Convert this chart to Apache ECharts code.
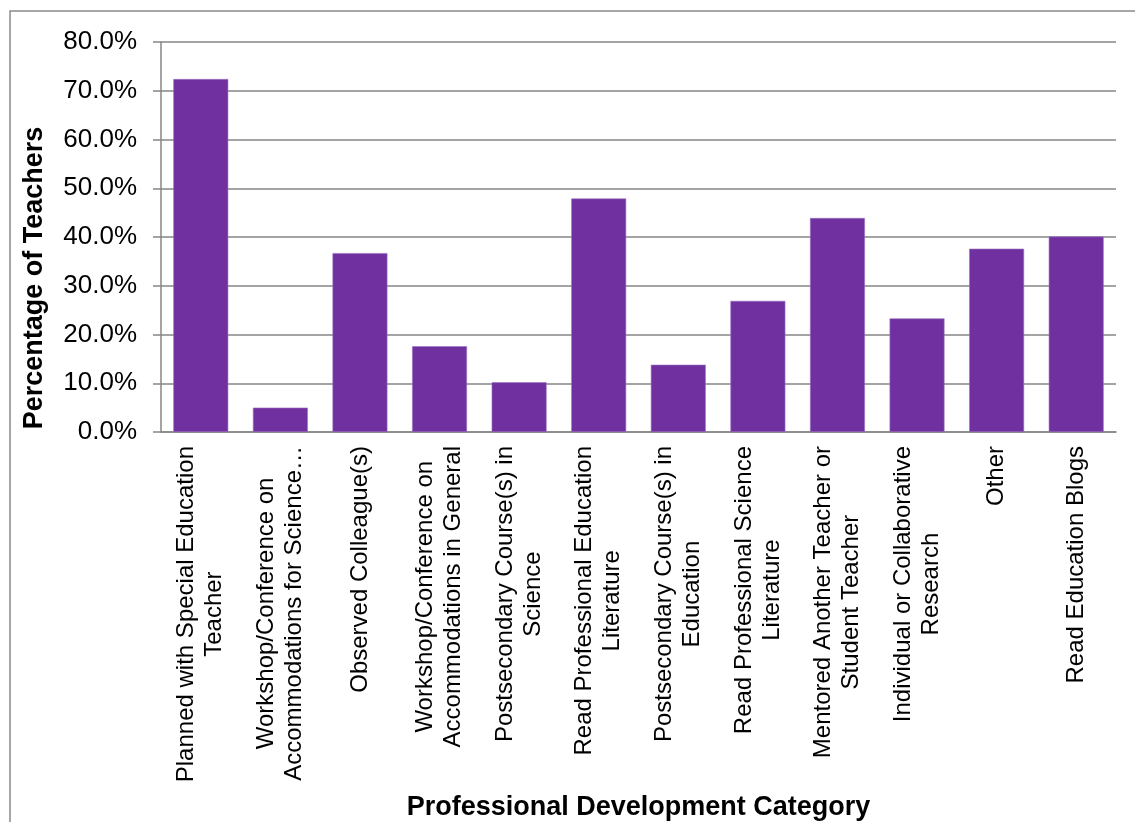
<!DOCTYPE html>
<html>
<head>
<meta charset="utf-8">
<title>Professional Development Category</title>
<script src="https://cdn.jsdelivr.net/npm/echarts@6/dist/echarts.min.js"></script>
<style>
  html, body { margin: 0; padding: 0; background: #fff; }
  #chart { width: 1135px; height: 822px; }
</style>
</head>
<body>
<div id="chart"></div>
<script>
// Professional development activities reported by teachers
const categories = [
  'Planned with Special Education\nTeacher',
  'Workshop/Conference on\nAccommodations for Science…',
  'Observed Colleague(s)',
  'Workshop/Conference on\nAccommodations in General',
  'Postsecondary Course(s) in\nScience',
  'Read Professional Education\nLiterature',
  'Postsecondary Course(s) in\nEducation',
  'Read Professional Science\nLiterature',
  'Mentored Another Teacher or\nStudent Teacher',
  'Individual or Collaborative\nResearch',
  'Other',
  'Read Education Blogs'
];

// Percentage of teachers per category
const teacherPct = [72.4, 5.0, 36.7, 17.6, 10.2, 47.9, 13.8, 26.9, 43.9, 23.3, 37.6, 40.1];

const yAxisTitle = 'Percentage of Teachers';
const xAxisTitle = 'Professional Development Category';

const FONT = '"Liberation Sans", Arial, sans-serif';
const GRID_GRAY = '#868686';

const chart = echarts.init(document.getElementById('chart'), null, { renderer: 'canvas' });

chart.setOption({
  animation: false,
  backgroundColor: '#ffffff',
  grid: { left: 161, right: 19, top: 42, bottom: 389, containLabel: false },
  xAxis: {
    type: 'category',
    data: categories,
    name: xAxisTitle,
    nameLocation: 'middle',
    nameGap: 362,
    nameTextStyle: { fontFamily: FONT, fontSize: 27, fontWeight: 'bold', color: '#000' },
    axisLine: { show: true, lineStyle: { color: GRID_GRAY, width: 1.5 } },
    axisTick: { show: false },
    axisLabel: {
      interval: 0,
      rotate: 90,
      margin: 14,
      color: '#000',
      fontFamily: FONT,
      fontSize: 24,
      formatter: v => v.split('\n').map(s => '{c|' + s + '}').join('\n'),
      rich: {
        c: { align: 'center', fontFamily: FONT, fontSize: 24, lineHeight: 28, color: '#000' }
      }
    }
  },
  yAxis: {
    type: 'value',
    min: 0,
    max: 80,
    interval: 10,
    axisLine: { show: true, lineStyle: { color: GRID_GRAY, width: 1.5 } },
    axisTick: { show: true, length: 8, lineStyle: { color: GRID_GRAY, width: 1.5 } },
    splitLine: { show: true, lineStyle: { color: GRID_GRAY, width: 1.5 } },
    axisLabel: {
      margin: 24,
      color: '#000',
      fontFamily: FONT,
      fontSize: 26,
      formatter: v => v.toFixed(1) + '%'
    }
  },
  series: [{
    type: 'bar',
    data: teacherPct,
    barCategoryGap: '31%',
    itemStyle: { color: '#7030A0', borderColor: '#9a74bf', borderWidth: 0.6 }
  }],
  graphic: [
    {
      type: 'rect',
      silent: true,
      shape: { x: 10, y: 11, width: 1300, height: 1000 },
      style: { fill: 'none', stroke: '#8a8a8a', lineWidth: 1.5 }
    },
    {
      type: 'text',
      silent: true,
      x: 35,
      y: 278,
      rotation: Math.PI / 2,
      style: {
        text: yAxisTitle,
        font: 'bold 27px ' + FONT,
        fill: '#000',
        align: 'center',
        verticalAlign: 'middle'
      }
    }
  ]
});
</script>
</body>
</html>
